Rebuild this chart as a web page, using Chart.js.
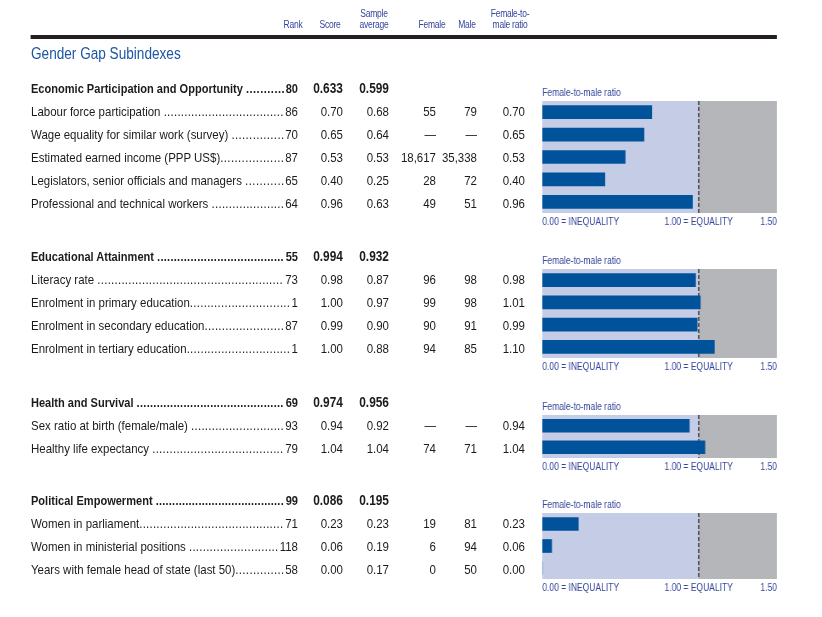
<!DOCTYPE html>
<html>
<head>
<meta charset="utf-8">
<script src="https://cdn.jsdelivr.net/npm/chart.js@4.4.1/dist/chart.umd.min.js"></script>
<style>
  body { margin: 0; background: #fff; }
  #page { position: relative; width: 822px; height: 617px; overflow: hidden; background: #fff; }
  /* everything is laid out wide and squeezed horizontally to get a condensed face */
  #inner {
    position: absolute; left: 0; top: 0; width: 968px; height: 617px;
    transform: scaleX(0.85); transform-origin: 0 0;
    font-family: "Liberation Sans", Arial, sans-serif; color: #1d1a1b;
  }
  .abs { position: absolute; white-space: nowrap; }
  .hdr { font-size: 10px; line-height: 11px; letter-spacing: -0.3px; color: #34459b; text-align: center; }
  .rule { position: absolute; top: 35px; height: 4px; background: #231f20; }
  .title { top: 43px; font-size: 16px; line-height: 22px; color: #1d56a3; }
  .row { position: absolute; height: 23px; line-height: 23px; font-size: 13.5px; display: flex; white-space: nowrap; }
  .row.bold { font-size: 13px; }
  .row span { white-space: pre; flex: none; }
  .row .dots { flex: 1 1 auto; text-align: left; overflow: hidden; }
  .num { font-size: 13.5px; height: 23px; line-height: 23px; text-align: right; width: 100px; }
  .num.bold { font-size: 14px; }
  .bold { font-weight: bold; }
  canvas { position: absolute; }
</style>
</head>
<body>
<div id="page"><div id="inner"></div></div>
<script>
// Subindex (section) rows
const sections = ['Economic Participation and Opportunity', 'Educational Attainment', 'Health and Survival', 'Political Empowerment'];
const sectionRanks = [80, 55, 69, 99];
const sectionScores = ['0.633', '0.994', '0.974', '0.086'];
const sectionAverages = ['0.599', '0.932', '0.956', '0.195'];

// Indicator rows (sectionOf tells which subindex each row belongs to)
const sectionOf = [0, 0, 0, 0, 0, 1, 1, 1, 1, 2, 2, 3, 3, 3];
const indicators = [
  'Labour force participation ',
  'Wage equality for similar work (survey) ',
  'Estimated earned income (PPP US$)',
  'Legislators, senior officials and managers ',
  'Professional and technical workers ',
  'Literacy rate ',
  'Enrolment in primary education',
  'Enrolment in secondary education',
  'Enrolment in tertiary education',
  'Sex ratio at birth (female/male) ',
  'Healthy life expectancy ',
  'Women in parliament',
  'Women in ministerial positions ',
  'Years with female head of state (last 50)'
];
const indicatorRanks = [86, 70, 87, 65, 64, 73, 1, 87, 1, 93, 79, 71, 118, 58];
const indicatorScores = [0.70, 0.65, 0.53, 0.40, 0.96, 0.98, 1.00, 0.99, 1.00, 0.94, 1.04, 0.23, 0.06, 0.00];
const sampleAverages = [0.68, 0.64, 0.53, 0.25, 0.63, 0.87, 0.97, 0.90, 0.88, 0.92, 1.04, 0.23, 0.19, 0.17];
const femaleValues = ['55', '—', '18,617', '28', '49', '96', '99', '90', '94', '—', '74', '19', '6', '0'];
const maleValues = ['79', '—', '35,338', '72', '51', '98', '98', '91', '85', '—', '71', '81', '94', '50'];
const ratios = [0.70, 0.65, 0.53, 0.40, 0.96, 0.98, 1.01, 0.99, 1.10, 0.94, 1.04, 0.23, 0.06, 0.00];

// Axis of the small bar panels
const tickValues = [0, 1, 1.5];
const tickLabels = ['0.00 = INEQUALITY', '1.00 = EQUALITY', '1.50'];

// layout
const SX = 0.85;                 // horizontal squeeze of #inner
const X = v => v / SX;           // page px -> inner px
const sectionCenters = [88, 256, 402, 500];
const ROW = 23;
const LEFT = 31;
const colRight = { rank: 298, score: 343, avg: 389, female: 436, male: 477, ratio: 525 };
const inner = document.getElementById('inner');

function el(cls, text, css) {
  const d = document.createElement('div');
  d.className = cls;
  if (text !== undefined) d.textContent = text;
  Object.assign(d.style, css || {});
  inner.appendChild(d);
  return d;
}

function numCell(text, right, center, bold) {
  el('abs num' + (bold ? ' bold' : ''), text, { left: (X(right) - 100) + 'px', top: (center - 11.5) + 'px' });
}

// label + dot leader + rank; the leader is spread to fill the gap exactly
function labelRow(label, rank, center, bold) {
  const r = el('row' + (bold ? ' bold' : ''), undefined, {
    left: X(LEFT) + 'px', width: X(colRight.rank - LEFT) + 'px', top: (center - 11.5) + 'px'
  });
  const a = document.createElement('span'); a.textContent = label;
  const b = document.createElement('span'); b.className = 'dots';
  const c = document.createElement('span'); c.textContent = rank;
  const probe = document.createElement('span'); probe.textContent = '.'.repeat(20);
  r.append(a, probe, c);
  const dotW = probe.getBoundingClientRect().width / SX / 20;
  const avail = r.clientWidth - a.getBoundingClientRect().width / SX - c.getBoundingClientRect().width / SX;
  probe.remove();
  const n = Math.max(0, Math.floor(avail / (dotW + 0.3)));
  b.textContent = '.'.repeat(n);
  if (n > 0) b.style.letterSpacing = ((avail - n * dotW) / n - 0.05) + 'px';
  r.insertBefore(b, c);
}

// header
function hdr(lines, center) {
  const d = el('abs hdr', undefined, { left: (X(center) - 50) + 'px', width: '100px', top: (lines.length === 2 ? 8 : 19) + 'px' });
  d.innerHTML = lines.join('<br>');
}
hdr(['Rank'], 293);
hdr(['Score'], 330);
hdr(['Sample', 'average'], 374);
hdr(['Female'], 432);
hdr(['Male'], 467);
hdr(['Female-to-', 'male ratio'], 510);
el('rule', undefined, { left: X(LEFT) + 'px', width: X(746) + 'px' });
el('abs title', 'Gender Gap Subindexes', { left: X(LEFT) + 'px' });

// band + dashed equality line behind the bars
const bandPlugin = {
  id: 'bands',
  beforeDatasetsDraw(chart) {
    const { ctx, chartArea: a, scales: { x } } = chart;
    const x1 = x.getPixelForValue(1);
    ctx.save();
    ctx.fillStyle = '#c5cce5';
    ctx.fillRect(a.left, a.top, x1 - a.left, a.bottom - a.top);
    ctx.fillStyle = '#b5b6b9';
    ctx.fillRect(x1, a.top, a.right - x1, a.bottom - a.top);
    ctx.strokeStyle = '#231f20';
    ctx.lineWidth = 1.3;
    ctx.setLineDash([4, 2]);
    ctx.beginPath();
    ctx.moveTo(x1, a.top);
    ctx.lineTo(x1, a.bottom);
    ctx.stroke();
    ctx.restore();
  }
};

Chart.defaults.font.family = '"Liberation Sans", Arial, sans-serif';

function panel(idx, plotTop, plotBottom) {
  const cv = document.createElement('canvas');
  const w = Math.round(X(235));
  const h = plotBottom - plotTop + 30;
  cv.width = w; cv.height = h;
  cv.style.left = X(542) + 'px';
  cv.style.top = (plotTop - 14) + 'px';
  cv.style.width = w + 'px'; cv.style.height = h + 'px';
  inner.appendChild(cv);
  new Chart(cv, {
    type: 'bar',
    data: {
      labels: idx.map(i => indicators[i]),
      datasets: [{ data: idx.map(i => ratios[i]), backgroundColor: '#00529b', barThickness: 13, borderWidth: 0 }]
    },
    options: {
      indexAxis: 'y',
      responsive: false,
      animation: false,
      layout: { padding: 0 },
      scales: {
        x: {
          min: 0, max: 1.5,
          grid: { display: false, drawTicks: false },
          border: { display: false },
          afterBuildTicks: s => { s.ticks = tickValues.map(v => ({ value: v })); },
          afterFit: s => { s.height = 16; s.paddingLeft = 0; s.paddingRight = 0; },
          ticks: {
            align: 'inner', maxRotation: 0, autoSkip: false, padding: 3,
            color: '#34459b', font: { size: 10 },
            callback: (v, i) => tickLabels[i]
          }
        },
        y: { display: false }
      },
      plugins: {
        legend: { display: false },
        tooltip: { enabled: false },
        title: {
          display: true, text: 'Female-to-male ratio', align: 'start',
          padding: { top: 0, bottom: 2 }, color: '#34459b',
          font: { size: 10, weight: 'normal' }
        }
      }
    },
    plugins: [bandPlugin]
  });
}

// sections
sections.forEach((name, s) => {
  const c0 = sectionCenters[s];
  labelRow(name + ' ', sectionRanks[s], c0, true);
  numCell(sectionScores[s], colRight.score, c0, true);
  numCell(sectionAverages[s], colRight.avg, c0, true);
  const idx = [];
  sectionOf.forEach((sec, i) => { if (sec === s) idx.push(i); });
  idx.forEach((i, k) => {
    const c = c0 + ROW * (k + 1);
    labelRow(indicators[i], indicatorRanks[i], c, false);
    numCell(indicatorScores[i].toFixed(2), colRight.score, c);
    numCell(sampleAverages[i].toFixed(2), colRight.avg, c);
    numCell(femaleValues[i], colRight.female, c);
    numCell(maleValues[i], colRight.male, c);
    numCell(ratios[i].toFixed(2), colRight.ratio, c);
  });
  const first = c0 + ROW, last = c0 + ROW * idx.length;
  panel(idx, first - 10, last + 10);
});
</script>
</body>
</html>
